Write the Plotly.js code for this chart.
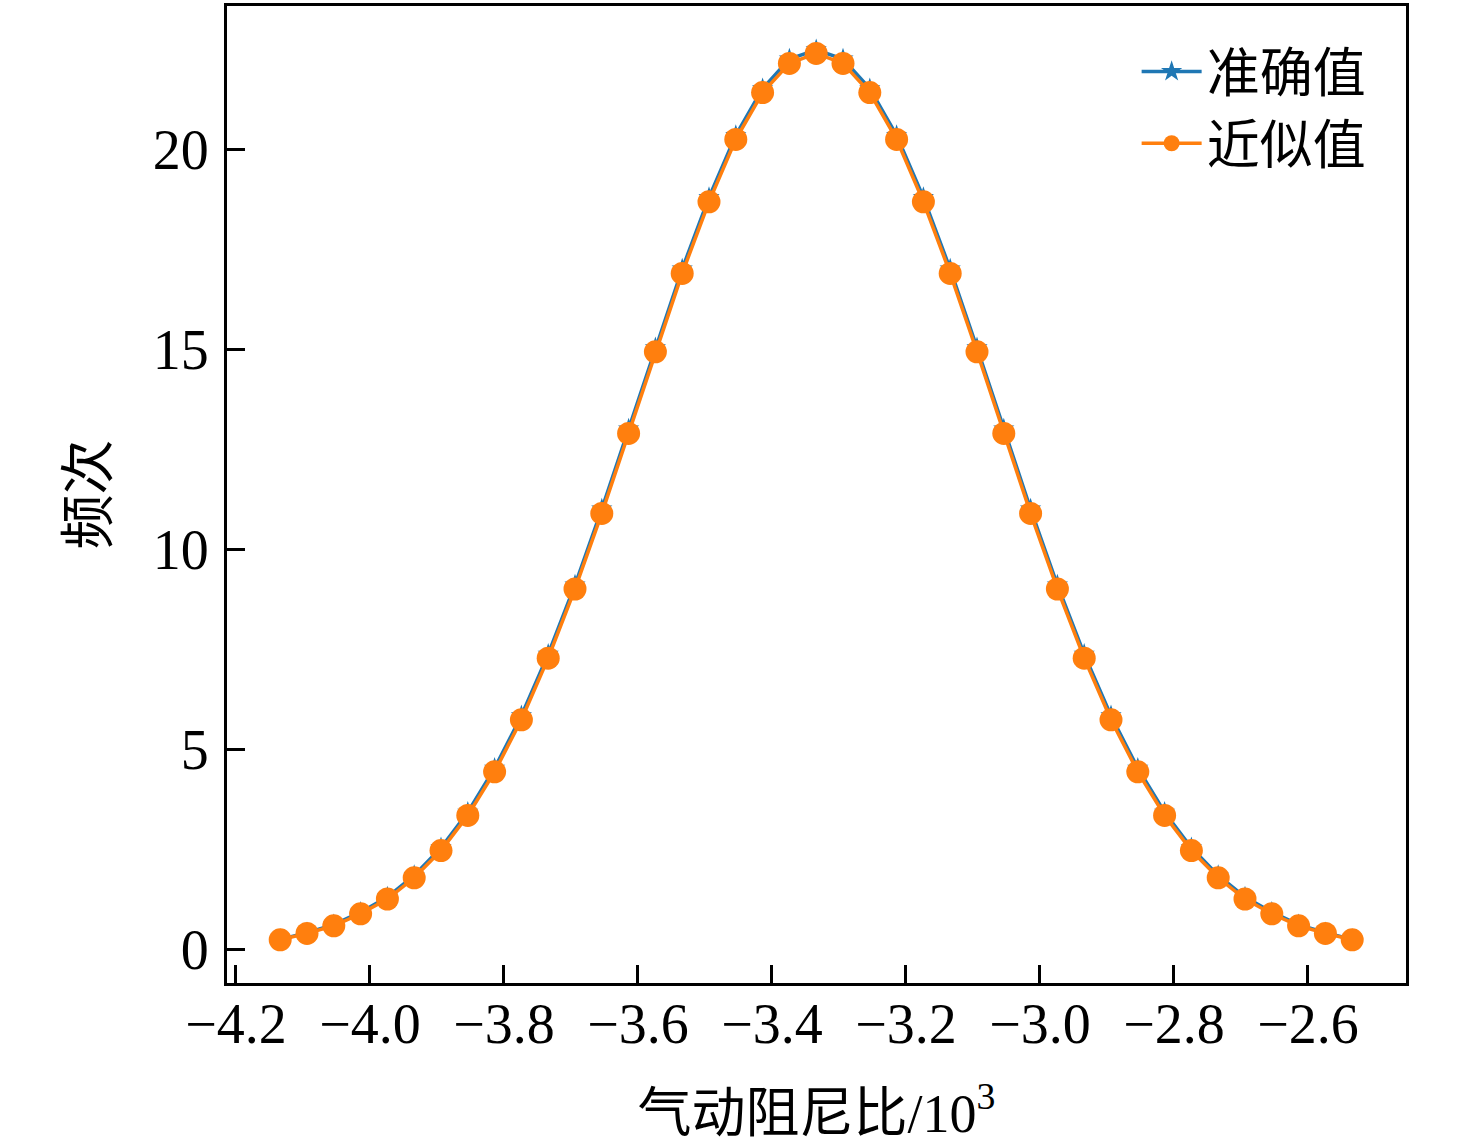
<!DOCTYPE html>
<html>
<head>
<meta charset="utf-8">
<script src="https://cdn.plot.ly/plotly-3.0.1.min.js"></script>
<style>
  html, body { margin: 0; padding: 0; background: #fff; }
  #chart { width: 1476px; height: 1145px; }
</style>
</head>
<body>
<div id="chart"></div>
<script>
// aerodynamic damping ratio (x10^3) bins
var dampingRatio = [-4.134, -4.094, -4.054, -4.014, -3.974, -3.934, -3.894, -3.854, -3.814, -3.774,
  -3.734, -3.694, -3.654, -3.614, -3.574, -3.534, -3.494, -3.454, -3.414, -3.374,
  -3.334, -3.294, -3.254, -3.214, -3.174, -3.134, -3.094, -3.054, -3.014, -2.974,
  -2.934, -2.894, -2.854, -2.814, -2.774, -2.734, -2.694, -2.654, -2.614, -2.574, -2.534];

var exactFreq = [0.24, 0.41, 0.61, 0.92, 1.30, 1.84, 2.53, 3.42, 4.52, 5.83,
  7.37, 9.10, 11.00, 13.00, 15.03, 17.00, 18.79, 20.34, 21.51, 22.25,
  22.48, 22.25, 21.51, 20.34, 18.79, 17.00, 15.03, 13.00, 11.00, 9.10,
  7.37, 5.83, 4.52, 3.42, 2.53, 1.84, 1.30, 0.92, 0.61, 0.41, 0.24];

var approxFreq = [0.23, 0.39, 0.58, 0.88, 1.25, 1.78, 2.46, 3.34, 4.43, 5.73,
  7.27, 9.00, 10.89, 12.89, 14.93, 16.89, 18.68, 20.24, 21.41, 22.14,
  22.39, 22.14, 21.41, 20.24, 18.68, 16.89, 14.93, 12.89, 10.89, 9.00,
  7.27, 5.73, 4.43, 3.34, 2.46, 1.78, 1.25, 0.88, 0.58, 0.39, 0.23];

var seriesNames = ['准确值', '近似值'];
var seriesColors = ['#1f77b4', '#ff7f0e'];

var fontFamily = '"Liberation Serif", "Times New Roman", "Noto Sans CJK SC", serif';

var traces = [
  {
    x: dampingRatio,
    y: exactFreq,
    name: seriesNames[0],
    mode: 'lines+markers',
    type: 'scatter',
    line: { color: seriesColors[0], width: 3.5 },
    marker: { color: seriesColors[0], symbol: 'star', size: 16 },
  },
  {
    x: dampingRatio,
    y: approxFreq,
    name: seriesNames[1],
    mode: 'lines+markers',
    type: 'scatter',
    line: { color: seriesColors[1], width: 3.5 },
    marker: { color: seriesColors[1], symbol: 'circle', size: 23 },
  },
];

var axisBase = {
  showline: true,
  linecolor: '#000',
  linewidth: 3,
  mirror: true,
  ticks: 'inside',
  ticklen: 18,
  tickwidth: 3,
  tickcolor: '#000',
  showgrid: false,
  zeroline: false,
  tickfont: { family: fontFamily, size: 56, color: '#000' },
};

var layout = {
  width: 1476,
  height: 1145,
  margin: { l: 227, r: 70, t: 6, b: 162 },
  paper_bgcolor: '#fff',
  plot_bgcolor: '#fff',
  font: { family: fontFamily, color: '#000' },
  showlegend: true,
  xaxis: Object.assign({}, axisBase, {
    range: [-4.2134, -2.4537],
    tickvals: [-4.2, -4.0, -3.8, -3.6, -3.4, -3.2, -3.0, -2.8, -2.6],
    tickformat: '.1f',
    ticklabelstandoff: -10,
    title: {
      text: '气动阻尼比/10<sup>3</sup>',
      font: { family: fontFamily, size: 54, color: '#000' },
      standoff: 40,
    },
    automargin: false,
  }),
  yaxis: Object.assign({}, axisBase, {
    range: [-0.85, 23.575],
    tickvals: [0, 5, 10, 15, 20],
    ticklabelstandoff: 4,
    title: {
      text: '频次',
      font: { family: fontFamily, size: 55, color: '#000' },
      standoff: 28,
    },
    automargin: false,
  }),
  legend: {
    x: 0.97,
    xanchor: 'right',
    y: 0.975,
    yanchor: 'top',
    bgcolor: 'rgba(0,0,0,0)',
    borderwidth: 0,
    font: { family: fontFamily, size: 53, color: '#000' },
    itemwidth: 60,
    tracegroupgap: 0,
  },
};

Plotly.newPlot('chart', traces, layout, { displayModeBar: false, staticPlot: true });
</script>
</body>
</html>
